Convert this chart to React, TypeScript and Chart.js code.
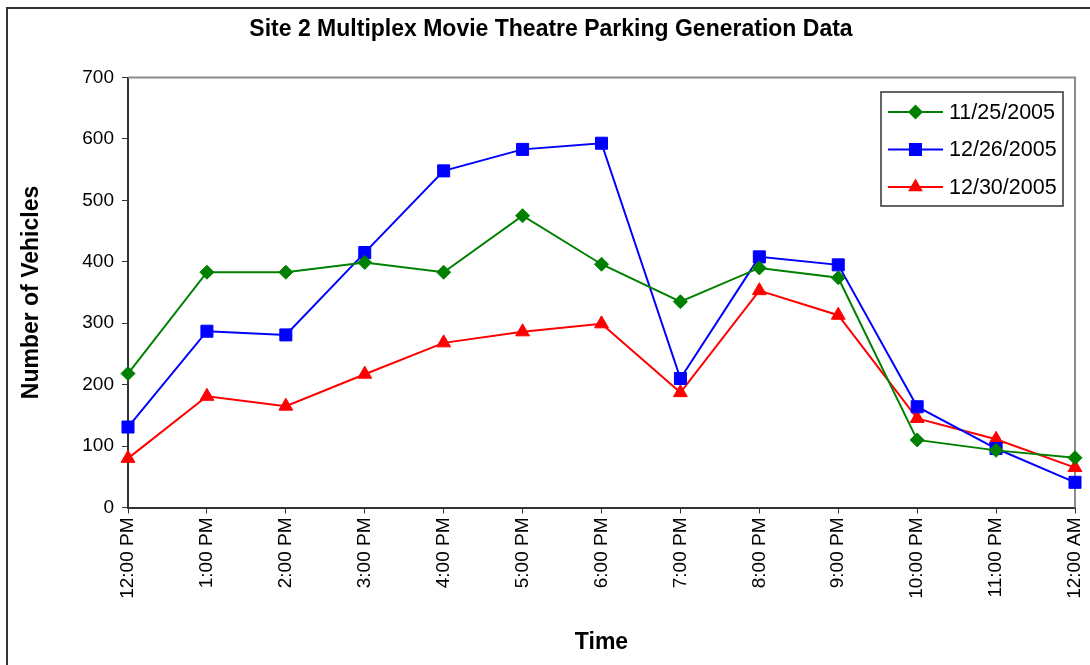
import React, { useEffect, useRef } from 'react';
import { Chart, registerables } from 'chart.js';

Chart.register(...registerables);

const chartTitle = 'Site 2 Multiplex Movie Theatre Parking Generation Data';
const xTitle = 'Time';
const yTitle = 'Number of Vehicles';

const timeLabels = [
  '12:00 PM', '1:00 PM', '2:00 PM', '3:00 PM', '4:00 PM', '5:00 PM', '6:00 PM',
  '7:00 PM', '8:00 PM', '9:00 PM', '10:00 PM', '11:00 PM', '12:00 AM',
];

const seriesNames = ['11/25/2005', '12/26/2005', '12/30/2005'];
const nov25 = [218, 383, 383, 399, 383, 475, 396, 335, 390, 374, 110, 93, 81];
const dec26 = [131, 287, 281, 415, 548, 583, 593, 210, 408, 395, 164, 96, 41];
const dec30 = [80, 181, 165, 217, 268, 286, 299, 187, 353, 313, 145, 111, 65];

const yMin = 0;
const yMax = 700;
const yStep = 100;

const FONT = "'Liberation Sans', Arial, sans-serif";
const colors = ['#008000', '#0000FF', '#FF0000'];
const styles = ['rectRot', 'rect', 'triangle'];

function drawMarker(ctx: CanvasRenderingContext2D, style: string, x: number, y: number, color: string) {
  ctx.save();
  ctx.fillStyle = color;
  ctx.beginPath();
  if (style === 'rectRot') {
    const r = 7.5;
    ctx.moveTo(x, y - r);
    ctx.lineTo(x + r, y);
    ctx.lineTo(x, y + r);
    ctx.lineTo(x - r, y);
  } else if (style === 'rect') {
    const h = 6.5;
    ctx.rect(x - h, y - h, 2 * h, 2 * h);
  } else {
    const r = 8.5;
    ctx.moveTo(x, y - r);
    ctx.lineTo(x + r * Math.sin(Math.PI / 3), y + r / 2);
    ctx.lineTo(x - r * Math.sin(Math.PI / 3), y + r / 2);
  }
  ctx.closePath();
  ctx.fill();
  ctx.restore();
}

const decor = {
  id: 'decor',
  beforeDatasetsDraw(chart: any) {
    const { ctx, chartArea } = chart;
    ctx.save();
    ctx.strokeStyle = '#8c8c8c';
    ctx.lineWidth = 2;
    ctx.beginPath();
    ctx.moveTo(chartArea.left, chartArea.top);
    ctx.lineTo(chartArea.right, chartArea.top);
    ctx.lineTo(chartArea.right, chartArea.bottom);
    ctx.stroke();
    ctx.restore();
  },
  afterDraw(chart: any) {
    const { ctx, chartArea } = chart;
    ctx.save();
    // outer chart border
    ctx.strokeStyle = '#333333';
    ctx.lineWidth = 2;
    ctx.beginPath();
    ctx.moveTo(7, 700);
    ctx.lineTo(7, 8);
    ctx.lineTo(1100, 8);
    ctx.stroke();

    ctx.fillStyle = '#000';
    ctx.textAlign = 'center';
    ctx.textBaseline = 'middle';
    ctx.font = `bold 23px ${FONT}`;
    ctx.fillText(chartTitle, 551, 30);

    ctx.font = `bold 23px ${FONT}`;
    ctx.fillText(xTitle, (chartArea.left + chartArea.right) / 2, 643);

    ctx.save();
    ctx.translate(32, (chartArea.top + chartArea.bottom) / 2);
    ctx.rotate(-Math.PI / 2);
    ctx.fillText(yTitle, 0, 0);
    ctx.restore();

    // legend
    const bx = 881, by = 92, bw = 182, bh = 114;
    ctx.fillStyle = '#fff';
    ctx.fillRect(bx, by, bw, bh);
    ctx.strokeStyle = '#333';
    ctx.lineWidth = 1.5;
    ctx.strokeRect(bx, by, bw, bh);
    const rows = [112, 149.5, 187];
    ctx.font = `21.5px ${FONT}`;
    ctx.textAlign = 'left';
    for (let i = 0; i < seriesNames.length; i++) {
      const y = rows[i];
      ctx.strokeStyle = colors[i];
      ctx.lineWidth = 2;
      ctx.beginPath();
      ctx.moveTo(888, y);
      ctx.lineTo(943, y);
      ctx.stroke();
      drawMarker(ctx, styles[i], 915.5, y, colors[i]);
      ctx.fillStyle = '#000';
      ctx.fillText(seriesNames[i], 949, y + 1);
    }
    ctx.restore();
  },
};

export default function App() {
  const ref = useRef<HTMLCanvasElement>(null);
  useEffect(() => {
    const canvas = ref.current;
    if (!canvas) return;
    const mk = (label: string, data: number[], i: number, radius: number) => ({
      label,
      data,
      borderColor: colors[i],
      backgroundColor: colors[i],
      borderWidth: 2,
      pointStyle: styles[i],
      pointRadius: radius,
      pointBorderWidth: 1,
      pointBackgroundColor: colors[i],
      pointBorderColor: colors[i],
      tension: 0,
      fill: false,
    });
    const chart = new Chart(canvas, {
      type: 'line',
      data: {
        labels: timeLabels,
        datasets: [
          mk(seriesNames[0], nov25, 0, 7),
          mk(seriesNames[1], dec26, 1, 8.5),
          mk(seriesNames[2], dec30, 2, 8),
        ],
      },
      options: {
        responsive: false,
        animation: false,
        devicePixelRatio: 1,
        layout: { padding: { top: 77.5, right: 15, left: 0, bottom: 0 } },
        plugins: {
          legend: { display: false },
          tooltip: { enabled: false },
          title: { display: false },
        },
        scales: {
          x: {
            type: 'category',
            offset: false,
            grid: { display: true, drawOnChartArea: false, drawTicks: true, tickLength: 6, color: '#333', lineWidth: 1 },
            border: { display: true, color: '#333', width: 2 },
            ticks: {
              minRotation: 90,
              maxRotation: 90,
              autoSkip: false,
              color: '#000',
              padding: 4,
              font: { family: FONT, size: 19 },
            },
            afterFit: (s: any) => {
              s.height = 157.5;
              s.paddingRight = 0;
              s.paddingLeft = 0;
            },
          },
          y: {
            min: yMin,
            max: yMax,
            grid: { display: true, drawOnChartArea: false, drawTicks: true, tickLength: 6, color: '#333', lineWidth: 1 },
            border: { display: true, color: '#333', width: 2 },
            ticks: {
              stepSize: yStep,
              color: '#000',
              padding: 8,
              font: { family: FONT, size: 19 },
            },
            afterFit: (s: any) => {
              s.width = 128;
              s.paddingTop = 0;
              s.paddingBottom = 0;
            },
          },
        },
      },
      plugins: [decor],
    } as any);
    return () => chart.destroy();
  }, []);
  return (
    <div style={{ position: 'absolute', left: 0, top: 0, width: 1090, height: 665, background: '#fff' }}>
      <canvas ref={ref} width={1090} height={665} style={{ display: 'block' }} />
    </div>
  );
}
